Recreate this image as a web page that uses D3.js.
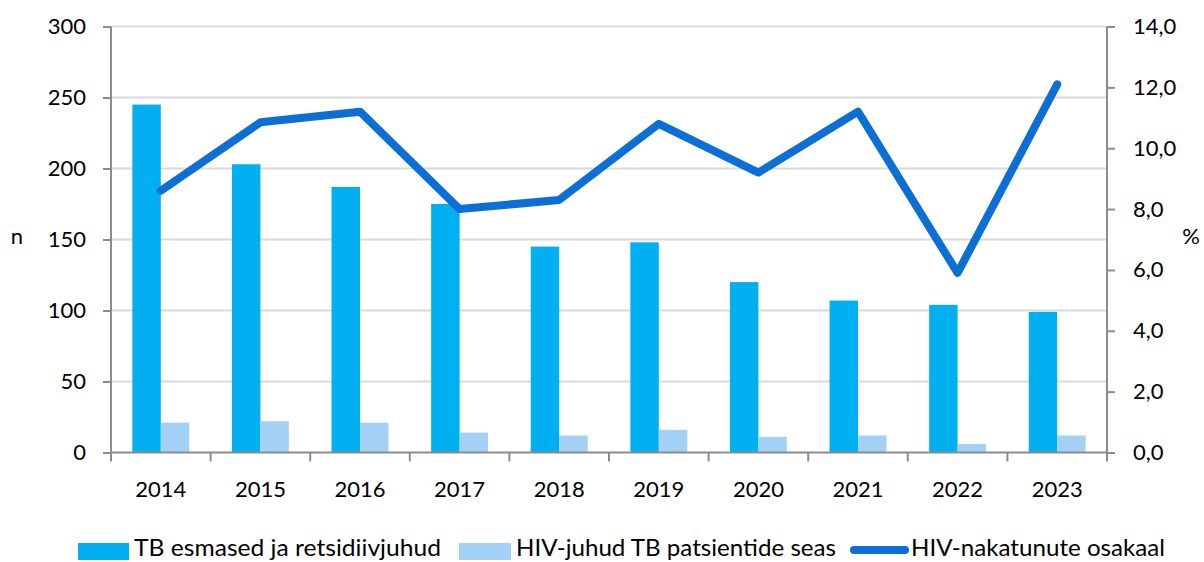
<!DOCTYPE html>
<html>
<head>
<meta charset="utf-8">
<script src="https://cdn.jsdelivr.net/npm/d3@7"></script>
<style>
  body { margin: 0; background: #fff; }
  svg text { font-family: Lato, "Open Sans", sans-serif; fill: #000; }
</style>
</head>
<body>
<svg id="chart" width="1204" height="562"></svg>
<script>
// data
const years = ["2014", "2015", "2016", "2017", "2018", "2019", "2020", "2021", "2022", "2023"];
const tbCases = [245, 203, 187, 175, 145, 148, 120, 107, 104, 99];
const hivCases = [21, 22, 21, 14, 12, 16, 11, 12, 6, 12];
const hivShare = [8.6, 10.85, 11.2, 8.0, 8.3, 10.8, 9.2, 11.2, 5.9, 12.1];
const leftTicks = [0, 50, 100, 150, 200, 250, 300];
const rightTicks = [0, 2, 4, 6, 8, 10, 12, 14];
const seriesNames = ["TB esmased ja retsidiivjuhud", "HIV-juhud TB patsientide seas", "HIV-nakatunute osakaal"];

const colTB = "#00b0f0", colHIV = "#a3d1f5", colLine = "#0b6fd6";
const axisCol = "#8c8c8c", gridCol = "#d9d9d9";

const svg = d3.select("#chart");
const plotL = 111, plotR = 1107, plotT = 26.5, plotB = 452.5;

const x = d3.scaleBand().domain(years).range([plotL, plotR]).padding(0);
const inner = d3.scaleBand().domain(["tb", "hiv"]).range([0, x.bandwidth()])
  .paddingInner(0).paddingOuter(0.75);
const yL = d3.scaleLinear().domain([0, 300]).range([plotB, plotT]);
const yR = d3.scaleLinear().domain([0, 14]).range([plotB, plotT]);

// gridlines
svg.append("g").selectAll("line").data(leftTicks.filter(d => d > 0)).join("line")
  .attr("x1", plotL).attr("x2", plotR)
  .attr("y1", d => yL(d)).attr("y2", d => yL(d))
  .attr("stroke", gridCol).attr("stroke-width", 2);

// bars
const grp = svg.append("g").selectAll("g").data(years).join("g")
  .attr("transform", d => `translate(${x(d)},0)`);
grp.append("rect")
  .attr("x", inner("tb")).attr("width", inner.bandwidth())
  .attr("y", (d, i) => yL(tbCases[i])).attr("height", (d, i) => plotB - yL(tbCases[i]))
  .attr("fill", colTB);
grp.append("rect")
  .attr("x", inner("hiv")).attr("width", inner.bandwidth())
  .attr("y", (d, i) => yL(hivCases[i])).attr("height", (d, i) => plotB - yL(hivCases[i]))
  .attr("fill", colHIV);

// axes
const fmtComma = d => d.toFixed(1).replace(".", ",");
const gL = svg.append("g").attr("transform", `translate(${plotL},0)`)
  .call(d3.axisLeft(yL).tickValues(leftTicks).tickSize(8).tickPadding(17));
const gR = svg.append("g").attr("transform", `translate(${plotR},0)`)
  .call(d3.axisRight(yR).tickValues(rightTicks).tickFormat(fmtComma).tickSize(8).tickPadding(18));
[gL, gR].forEach(g => {
  g.select(".domain").remove();
  g.selectAll("line").attr("stroke", axisCol).attr("stroke-width", 2);
  g.selectAll("text").attr("font-size", 22).attr("font-family", "Lato, sans-serif").attr("fill", "#000");
});
svg.append("line").attr("x1", plotL).attr("x2", plotL).attr("y1", plotT).attr("y2", plotB)
  .attr("stroke", axisCol).attr("stroke-width", 2);
svg.append("line").attr("x1", plotR).attr("x2", plotR).attr("y1", plotT).attr("y2", plotB)
  .attr("stroke", axisCol).attr("stroke-width", 2);

// x axis line, ticks at band edges, labels
svg.append("line").attr("x1", plotL).attr("x2", plotR).attr("y1", plotB).attr("y2", plotB)
  .attr("stroke", axisCol).attr("stroke-width", 2);
const edges = years.map(d => x(d)).concat([plotR]);
svg.append("g").selectAll("line").data(edges).join("line")
  .attr("x1", d => d).attr("x2", d => d).attr("y1", plotB).attr("y2", plotB + 9)
  .attr("stroke", axisCol).attr("stroke-width", 2);
svg.append("g").selectAll("text").data(years).join("text")
  .attr("x", d => x(d) + x.bandwidth() / 2).attr("y", 497)
  .attr("text-anchor", "middle").attr("font-size", 22).text(d => d);

// axis titles
svg.append("text").attr("x", 17).attr("y", 244).attr("text-anchor", "middle")
  .attr("font-size", 22).text("n");
svg.append("text").attr("x", 1191).attr("y", 244).attr("text-anchor", "middle")
  .attr("font-size", 22).text("%");

// line
const line = d3.line().x((d, i) => x(years[i]) + x.bandwidth() / 2).y(d => yR(d));
svg.append("path").datum(hivShare).attr("d", line)
  .attr("fill", "none").attr("stroke", colLine).attr("stroke-width", 8)
  .attr("stroke-linejoin", "round").attr("stroke-linecap", "round");

// legend
const leg = svg.append("g");
leg.append("rect").attr("x", 78).attr("y", 543).attr("width", 51).attr("height", 17).attr("fill", colTB);
leg.append("text").attr("x", 134).attr("y", 556).attr("font-size", 23)
  .attr("textLength", 307).attr("lengthAdjust", "spacingAndGlyphs").text(seriesNames[0]);
leg.append("rect").attr("x", 459).attr("y", 543).attr("width", 52).attr("height", 17).attr("fill", colHIV);
leg.append("text").attr("x", 516).attr("y", 556).attr("font-size", 23)
  .attr("textLength", 320).attr("lengthAdjust", "spacingAndGlyphs").text(seriesNames[1]);
leg.append("line").attr("x1", 854).attr("x2", 905).attr("y1", 550).attr("y2", 550)
  .attr("stroke", colLine).attr("stroke-width", 8).attr("stroke-linecap", "round");
leg.append("text").attr("x", 911).attr("y", 556).attr("font-size", 23)
  .attr("textLength", 254).attr("lengthAdjust", "spacingAndGlyphs").text(seriesNames[2]);
</script>
</body>
</html>
